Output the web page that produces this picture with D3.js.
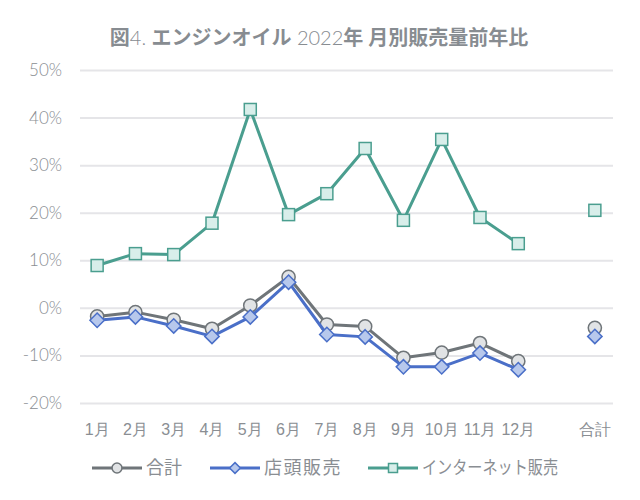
<!DOCTYPE html>
<html><head><meta charset="utf-8">
<script src="https://cdn.jsdelivr.net/npm/d3@7"></script>
<style>
body{margin:0;background:#fff;}
svg{display:block;font-family:Lato,"Noto Sans CJK JP",sans-serif;}
</style></head>
<body><svg id="c" width="640" height="500"></svg>
<script>
const categories = ["1月","2月","3月","4月","5月","6月","7月","8月","9月","10月","11月","12月","","合計"];
const totalVals    = [-1.8,-0.9,-2.5,-4.4, 0.5, 6.5,-3.5,-3.9,-10.5,-9.4,-7.4,-11.2, null,-4.2];
const storeVals    = [-2.6,-1.9,-3.8,-6.0,-1.9, 5.4,-5.6,-6.1,-12.4,-12.4,-9.5,-13.0, null,-6.0];
const internetVals = [ 8.9,11.4,11.2,17.8,41.7,19.6,24.0,33.5,18.4,35.4,19.0,13.5, null,20.5];
const seriesNames  = ["合計","店頭販売","インターネット販売"];
const yTicks = [-20,-10,0,10,20,30,40,50];

const svg = d3.select("#c");
const x = d3.scaleBand().domain(categories).range([78,614]).padding(0);
const y = d3.scaleLinear().domain([-20,50]).range([403,70]);
const cx = c => x(c) + x.bandwidth()/2;

// title
const t = svg.append("text").attr("x",319).attr("y",45).attr("text-anchor","middle")
  .attr("fill","#878c91").attr("font-size",20);
[["図",700],["4. ",300],["エンジンオイル",700],[" 2022",300],["年 月別販売量前年比",700]].forEach(([s,w])=>{
  t.append("tspan").attr("font-weight",w).text(s);
});

// grid + y axis
const yAxis = d3.axisLeft(y).tickValues(yTicks).tickFormat(d=>d+"%").tickSize(-(613-80)).tickPadding(18);
const gy = svg.append("g").attr("transform","translate(80,0)").call(yAxis);
gy.select(".domain").remove();
gy.selectAll(".tick line").attr("stroke","#e5e5e8").attr("stroke-width",2);
gy.selectAll(".tick text").attr("fill","#8a8e93").attr("font-size",17).attr("font-weight",300)
  .attr("font-family","Lato,sans-serif");

// x axis labels
const xAxis = d3.axisBottom(x).tickSize(0).tickPadding(0);
const gx = svg.append("g").attr("transform","translate(0,425)").call(xAxis);
gx.select(".domain").remove();
gx.selectAll(".tick text").attr("fill","#8a8e93").attr("font-size",16).attr("font-weight",300).attr("dy","0.6em");

const series = [
  {name:seriesNames[0], vals:totalVals, stroke:"#6f7579", fill:"#e1e3e5", shape:"circle"},
  {name:seriesNames[1], vals:storeVals, stroke:"#4a6fc8", fill:"#b7c8ec", shape:"diamond"},
  {name:seriesNames[2], vals:internetVals, stroke:"#4a9e8f", fill:"#d8eeea", shape:"square"}
];

function marker(g, shape, stroke, fill, s){
  if(shape==="circle") g.append("circle").attr("r",s*0.55).attr("fill",fill).attr("stroke",stroke).attr("stroke-width",1.5);
  else if(shape==="square") g.append("rect").attr("x",-s/2).attr("y",-s/2).attr("width",s).attr("height",s).attr("fill",fill).attr("stroke",stroke).attr("stroke-width",1.5);
  else g.append("path").attr("d",`M0,${-s*0.6}L${s*0.6},0L0,${s*0.6}L${-s*0.6},0Z`).attr("fill",fill).attr("stroke",stroke).attr("stroke-width",1.5);
}

const line = d3.line().defined(d=>d.v!=null).x(d=>cx(d.c)).y(d=>y(d.v));
series.forEach(s=>{
  const data = categories.map((c,i)=>({c, v:s.vals[i]}));
  svg.append("path").datum(data).attr("d",line).attr("fill","none").attr("stroke",s.stroke).attr("stroke-width",3).attr("stroke-linejoin","round");
  data.filter(d=>d.v!=null).forEach(d=>{
    marker(svg.append("g").attr("transform",`translate(${cx(d.c)},${y(d.v)})`), s.shape, s.stroke, s.fill, 12);
  });
});

// legend
const legX = [92, 210, 368];
series.forEach((s,i)=>{
  const g = svg.append("g").attr("transform",`translate(${legX[i]},468)`);
  g.append("line").attr("x1",0).attr("x2",50).attr("stroke",s.stroke).attr("stroke-width",3);
  marker(g.append("g").attr("transform","translate(25,0)"), s.shape, s.stroke, s.fill, 9);
  const tx = g.append("text").attr("x",54).attr("y",0).attr("dy","0.36em").attr("fill","#8a8e93").attr("font-size",18).text(s.name);
  if(i===1) tx.attr("letter-spacing",1.5);
  if(i===2) tx.attr("textLength",136).attr("lengthAdjust","spacingAndGlyphs");
});
</script></body></html>
